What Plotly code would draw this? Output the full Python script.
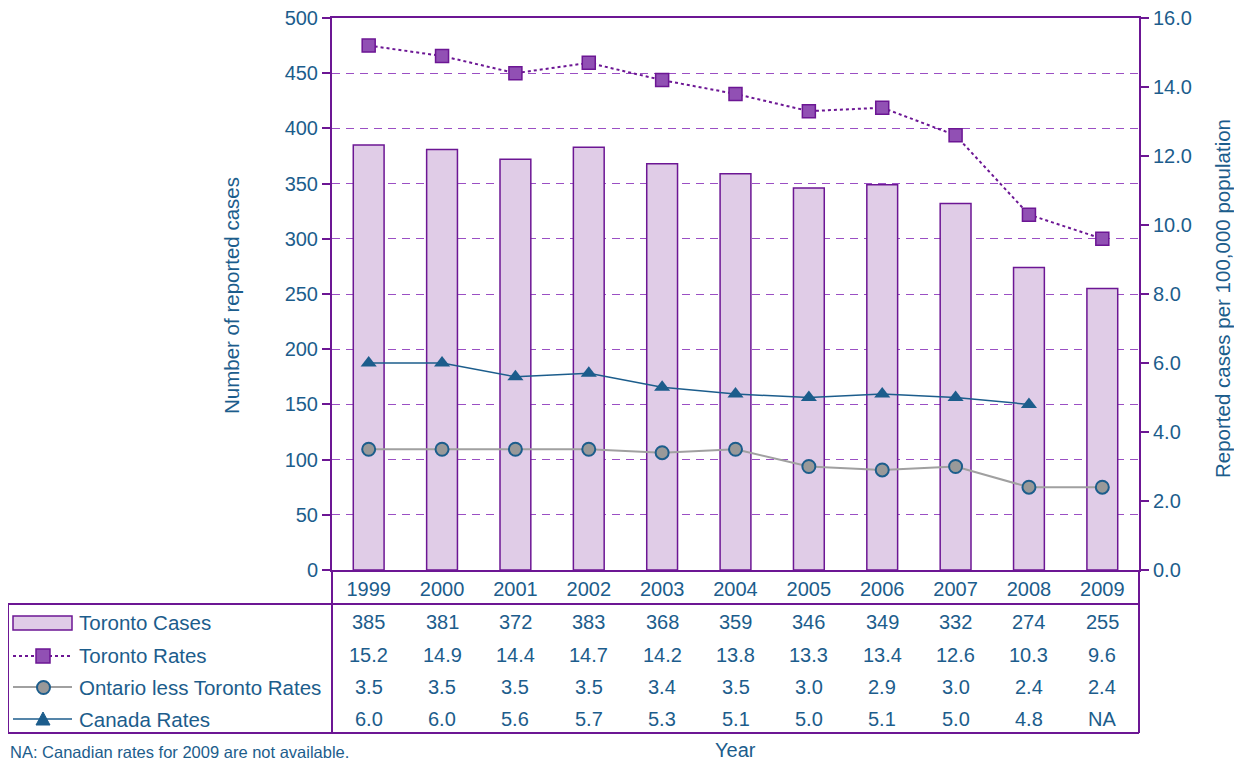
import plotly.graph_objects as go

years = ["1999", "2000", "2001", "2002", "2003", "2004", "2005", "2006", "2007", "2008", "2009"]
toronto_cases = [385, 381, 372, 383, 368, 359, 346, 349, 332, 274, 255]
toronto_rates = [15.2, 14.9, 14.4, 14.7, 14.2, 13.8, 13.3, 13.4, 12.6, 10.3, 9.6]
ontario_rates = [3.5, 3.5, 3.5, 3.5, 3.4, 3.5, 3.0, 2.9, 3.0, 2.4, 2.4]
canada_rates = [6.0, 6.0, 5.6, 5.7, 5.3, 5.1, 5.0, 5.1, 5.0, 4.8, None]

row_labels = ["Toronto Cases", "Toronto Rates", "Ontario less Toronto Rates", "Canada Rates"]

TXT = "#1c5d8c"
PURP = "#6c1694"
GRID = "#9b4fc4"
FONT = "Liberation Sans, Arial, sans-serif"

# plot area in reference pixels (used only to place the table below the axes)
L, R, T, B = 332, 1139, 18, 570
W, H = R - L, B - T
OFF = 8  # page body margin of the browser


def px(x):
    return (x - L) / W


def py(y):
    return (B - y) / H


def txt(size):
    return dict(size=size, color=TXT, family=FONT)


fig = go.Figure()

fig.add_trace(go.Bar(
    x=years, y=toronto_cases, name=row_labels[0], width=0.42,
    marker=dict(color="#e0cce7", line=dict(color=PURP, width=1.5)),
))
fig.add_trace(go.Scatter(
    x=years, y=toronto_rates, name=row_labels[1], yaxis="y2", mode="lines+markers",
    line=dict(color=PURP, width=2, dash="dot"),
    marker=dict(symbol="square", size=13, color="#9150b4", line=dict(color=PURP, width=1.5)),
))
fig.add_trace(go.Scatter(
    x=years, y=ontario_rates, name=row_labels[2], yaxis="y2", mode="lines+markers",
    line=dict(color="#a0a0a0", width=2),
    marker=dict(symbol="circle", size=13, color="#999999", line=dict(color=TXT, width=2)),
))
fig.add_trace(go.Scatter(
    x=years, y=canada_rates, name=row_labels[3], yaxis="y2", mode="lines+markers",
    line=dict(color=TXT, width=1.5),
    marker=dict(symbol="triangle-up", size=14, color=TXT),
))

# table values under each year
rows = [
    [str(v) for v in toronto_cases],
    [f"{v:.1f}" for v in toronto_rates],
    [f"{v:.1f}" for v in ontario_rates],
    ["NA" if v is None else f"{v:.1f}" for v in canada_rates],
]
row_y = [622, 655, 687, 719]
ann = []
for vals, yy, lab in zip(rows, row_y, row_labels):
    for i, v in enumerate(vals):
        ann.append(dict(x=i, xref="x", y=py(yy), yref="paper", text=v, showarrow=False,
                        font=txt(20), xanchor="center", yanchor="middle"))
    ann.append(dict(x=px(77), xref="paper", y=py(yy), yref="paper", text=lab, showarrow=False,
                    font=txt(20.5), xanchor="left", yanchor="middle"))

ann.append(dict(x=px(735), xref="paper", y=py(750), yref="paper", text="Year", showarrow=False,
                font=txt(20), xanchor="center", yanchor="middle"))
ann.append(dict(x=px(8), xref="paper", y=py(752), yref="paper", text="NA: Canadian rates for 2009 are not available.",
                showarrow=False, font=txt(16.5), xanchor="left", yanchor="middle"))
ann.append(dict(x=px(231), xref="paper", y=py(296), yref="paper", text="Number of reported cases", textangle=-90,
                showarrow=False, font=txt(20.5), xanchor="center", yanchor="middle"))
ann.append(dict(x=px(1223), xref="paper", y=py(299), yref="paper", text="Reported cases per 100,000 population",
                textangle=-90, showarrow=False, font=txt(20.5), xanchor="center", yanchor="middle"))

# table frame and legend glyphs
shapes = []


def line(x0, y0, x1, y1, color=PURP, width=2, dash=None):
    shapes.append(dict(type="line", xref="paper", yref="paper", x0=px(x0), y0=py(y0), x1=px(x1), y1=py(y1),
                       line=dict(color=color, width=width, dash=dash)))


line(8, 604, R, 604)
line(8, 733, R, 733)
line(8, 604, 8, 733)
line(L, B, L, 733)
line(R, B, R, 733)

shapes.append(dict(type="rect", xref="paper", yref="paper", x0=px(13), x1=px(72), y0=py(616), y1=py(630),
                   fillcolor="#e0cce7", line=dict(color=PURP, width=1.5)))
line(13, 656, 72, 656, PURP, 2, "dot")
shapes.append(dict(type="rect", xref="paper", yref="paper", x0=px(36), x1=px(50), y0=py(649), y1=py(663),
                   fillcolor="#9150b4", line=dict(color=PURP, width=1.5)))
line(13, 687, 72, 687, "#a0a0a0", 2)
shapes.append(dict(type="circle", xref="paper", yref="paper", x0=px(37), x1=px(50), y0=py(681), y1=py(694),
                   fillcolor="#999999", line=dict(color=TXT, width=2)))
line(13, 719, 72, 719, TXT, 1.5)
shapes.append(dict(type="path", xref="paper", yref="paper",
                   path=f"M {px(36)} {py(725)} L {px(50)} {py(725)} L {px(43)} {py(712)} Z",
                   fillcolor=TXT, line=dict(color=TXT, width=1)))

fig.update_layout(
    width=1242 - OFF, height=761 - OFF,
    margin=dict(l=L - OFF, r=1242 - R, t=T - OFF, b=761 - B),
    paper_bgcolor="white", plot_bgcolor="white",
    showlegend=False,
    font=dict(family=FONT, color=TXT, size=20),
    xaxis=dict(type="category", range=[-0.5, len(years) - 0.5], showline=True, linecolor=PURP,
               linewidth=2, mirror=True, showgrid=False, ticks="", ticklen=0, tickfont=txt(20),
               automargin=False),
    yaxis=dict(range=[0, 500], dtick=50, showline=True, linecolor=PURP, linewidth=2,
               ticks="outside", ticklen=8, tickcolor=PURP, tickwidth=2,
               showgrid=True, gridcolor=GRID, gridwidth=1, griddash="8px,6px",
               zeroline=False, tickfont=txt(20), automargin=False, ticklabeloverflow="allow"),
    yaxis2=dict(range=[0, 16], dtick=2, tickformat=".1f", overlaying="y", side="right",
                showline=True, linecolor=PURP, linewidth=2, ticks="outside", ticklen=8,
                tickcolor=PURP, tickwidth=2, showgrid=False, zeroline=False,
                tickfont=txt(20), automargin=False, ticklabeloverflow="allow"),
    annotations=ann,
    shapes=shapes,
)

fig.write_html("out.html")
